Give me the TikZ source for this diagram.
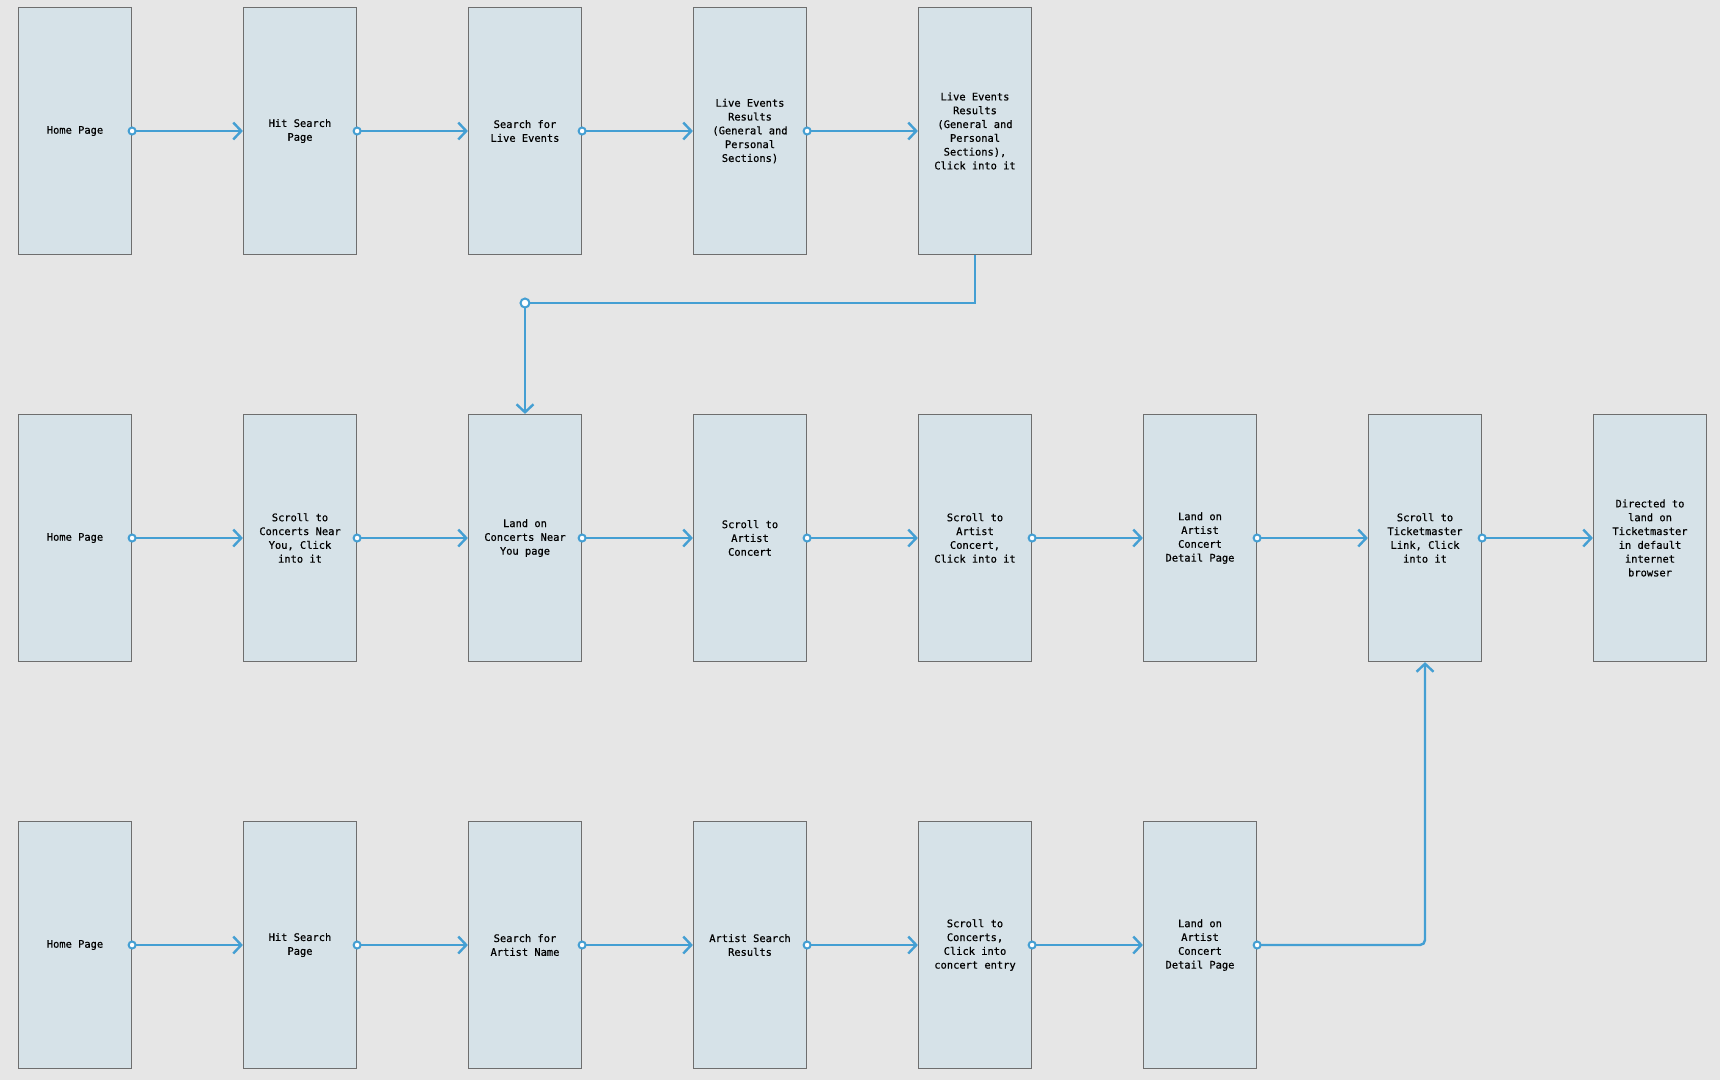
\documentclass[tikz,border=0pt]{standalone}
\usepackage{fontspec}
\newfontfamily\screenfont[FakeBold=0.6]{DejaVu Sans Mono}
\usetikzlibrary{arrows.meta}

\definecolor{canvas}{HTML}{E6E6E6}
\definecolor{screenfill}{HTML}{D6E2E8}
\definecolor{screenline}{HTML}{6E6E6E}
\definecolor{linkblue}{HTML}{449FD3}

\tikzset{
    screen/.style={rectangle, draw=screenline, line width=1.2pt, fill=screenfill,
        minimum width=113pt, minimum height=247pt, inner sep=0pt, align=center,
        font=\screenfont\fontsize{10.4}{13.8}\selectfont, text=black},
    link/.style={draw=linkblue, line width=2.4pt},
    flow/.style={link, shorten <=-4.5pt,
        {Circle[length=9pt, width=9pt, fill=white, line width=2pt]}-{Straight Barb[length=8pt, width=17pt, line width=2.4pt]}},
    knob/.style={circle, draw=linkblue, line width=2pt, fill=white, minimum size=9pt, inner sep=0pt},
}

\begin{document}
\begin{tikzpicture}[x=1pt, y=-1pt]
        \fill[canvas] (0,0) rectangle (1720,1080);
        \useasboundingbox (0,0) rectangle (1720,1080);

            % live events path
            \node[screen] (a1) at (75,131) {Home Page};
            \node[screen] (a2) at (300,131) {Hit Search\\Page};
            \node[screen] (a3) at (525,131) {Search for\\Live Events};
            \node[screen] (a4) at (750,131) {Live Events\\Results\\(General and\\Personal\\Sections)};
            \node[screen] (a5) at (975,131) {Live Events\\Results\\(General and\\Personal\\Sections),\\Click into it};

            % concerts near you path
            \node[screen] (b1) at (75,538) {Home Page};
            \node[screen] (b2) at (300,538) {Scroll to\\Concerts Near\\You, Click\\into it};
            \node[screen] (b3) at (525,538) {Land on\\Concerts Near\\You page};
            \node[screen] (b4) at (750,538) {Scroll to\\Artist\\Concert};
            \node[screen] (b5) at (975,538) {Scroll to\\Artist\\Concert,\\Click into it};
            \node[screen] (b6) at (1200,538) {Land on\\Artist\\Concert\\Detail Page};
            \node[screen] (b7) at (1425,538) {Scroll to\\Ticketmaster\\Link, Click\\into it};
            \node[screen] (b8) at (1650,538) {Directed to\\land on\\Ticketmaster\\in default\\internet\\browser};

            % artist search path
            \node[screen] (c1) at (75,945) {Home Page};
            \node[screen] (c2) at (300,945) {Hit Search\\Page};
            \node[screen] (c3) at (525,945) {Search for\\Artist Name};
            \node[screen] (c4) at (750,945) {Artist Search\\Results};
            \node[screen] (c5) at (975,945) {Scroll to\\Concerts,\\Click into\\concert entry};
            \node[screen] (c6) at (1200,945) {Land on\\Artist\\Concert\\Detail Page};

            \coordinate (turn) at (525,303);

            \draw[flow] (a1.east) -- (a2.west);
            \draw[flow] (a2.east) -- (a3.west);
            \draw[flow] (a3.east) -- (a4.west);
            \draw[flow] (a4.east) -- (a5.west);

            \draw[link, -{Straight Barb[length=8pt, width=17pt, line width=2.4pt]}]
                (a5.south) |- (turn) -- (b3.north);
            \node[knob] at (turn) {};

            \draw[flow] (b1.east) -- (b2.west);
            \draw[flow] (b2.east) -- (b3.west);
            \draw[flow] (b3.east) -- (b4.west);
            \draw[flow] (b4.east) -- (b5.west);
            \draw[flow] (b5.east) -- (b6.west);
            \draw[flow] (b6.east) -- (b7.west);
            \draw[flow] (b7.east) -- (b8.west);

            \draw[flow] (c1.east) -- (c2.west);
            \draw[flow] (c2.east) -- (c3.west);
            \draw[flow] (c3.east) -- (c4.west);
            \draw[flow] (c4.east) -- (c5.west);
            \draw[flow] (c5.east) -- (c6.west);
            \draw[flow, rounded corners=5pt] (c6.east) -| (b7.south);

\end{tikzpicture}
\end{document}
